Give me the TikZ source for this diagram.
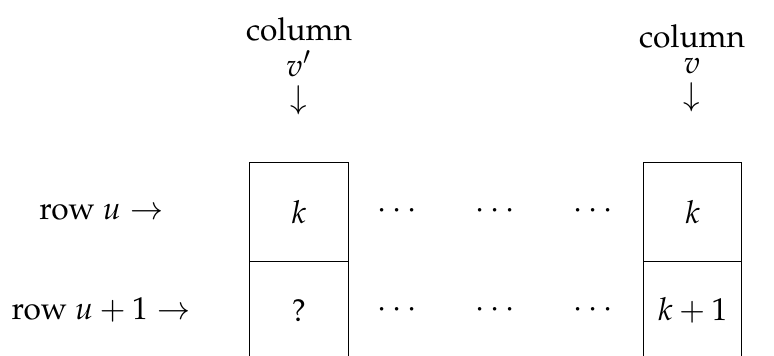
\documentclass[tikz,border=0pt]{standalone}
\usepackage[T1]{fontenc}
\usepackage{mathpazo}
\begin{document}
\begin{tikzpicture}[x=0.3165pt,y=-0.3165pt,
  cell/.style={draw,line width=0.4pt,minimum width=98.3*0.3165pt,minimum height=98.3*0.3165pt,inner sep=0pt},
  lab/.style={inner sep=0pt}]
\clip (0,0) rectangle (774,356);
\useasboundingbox (0,0) rectangle (774,356);
% cells
\node[cell] (a1) at (299,212) {$k$};
\node[cell] (a2) at (299,310.3) {?};
\node[cell] (b1) at (692.6,212) {$k$};
\node[cell] (b2) at (692.6,310.3) {$k+1$};
% dots
\node[lab] (d11) at (397,211) {$\cdots$};
\node[lab] (d12) at (495,211) {$\cdots$};
\node[lab] (d13) at (593,211) {$\cdots$};
\node[lab] (d21) at (397,310) {$\cdots$};
\node[lab] (d22) at (495,310) {$\cdots$};
\node[lab] (d23) at (593,310) {$\cdots$};
% row labels
\node[lab] (r1) at (101.5,212) {row $u\rightarrow$};
\node[lab] (r2) at (101,310) {row $u+1\rightarrow$};
% column headers
\node[lab,anchor=south] (h1) at (299,116) {\shortstack{column\\$v'$\\$\downarrow$}};
\node[lab,anchor=south] (h2) at (692,113) {\shortstack{column\\$v$\\$\downarrow$}};
\end{tikzpicture}
\end{document}
